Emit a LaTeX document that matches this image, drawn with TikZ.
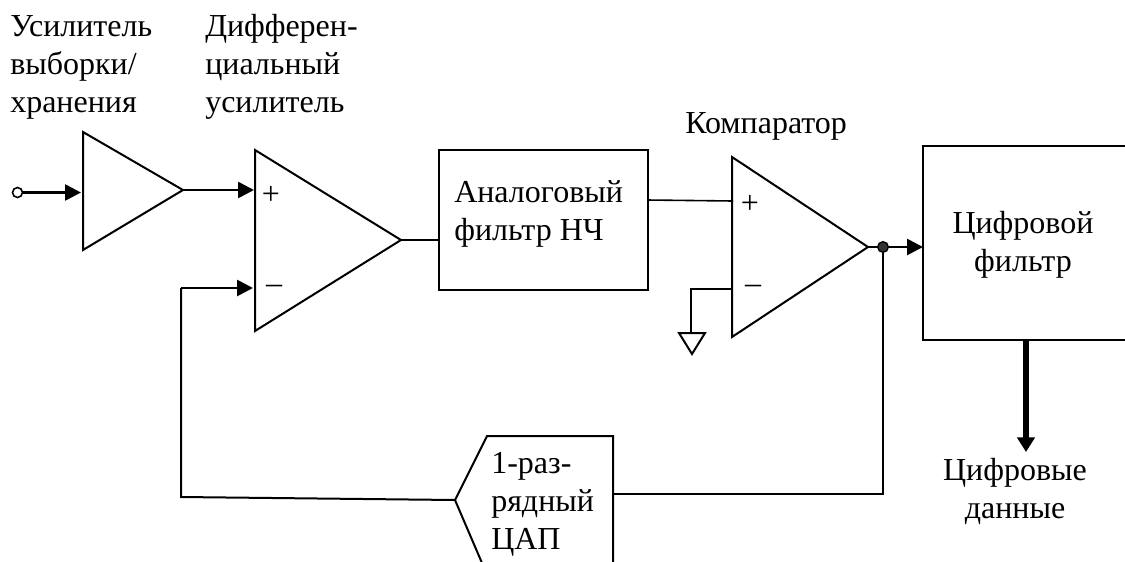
\documentclass[tikz,border=0pt]{standalone}
\usepackage{fontspec}
\setmainfont{Liberation Serif}
\usetikzlibrary{arrows.meta}
\tikzset{
  x=0.75pt,y=-0.75pt,
  wire/.style={line width=1.5pt,line join=miter},
  thin wire/.style={line width=1.2pt},
  sig/.style={line width=2pt,-{Triangle[length=12pt,width=12pt]},shorten >=0pt},
  bigsig/.style={line width=4.5pt,-{Triangle[length=11pt,width=13pt]}},
  lbl/.style={inner sep=0pt,align=left,anchor=base west,font=\fontsize{24}{28.2}\selectfont},
  sign/.style={inner sep=0pt,font=\fontsize{24}{24}\selectfont},
}
\begin{document}
\begin{tikzpicture}
\useasboundingbox (0,0) rectangle (1125,561);
\clip (0,0) rectangle (1125,561);
% anchors
\coordinate (inp) at (17.5,192.5);
\coordinate (a1in) at (81,192.5);
\coordinate (a1tl) at (83,132);
\coordinate (a1bl) at (83,250);
\coordinate (a1out) at (183,190);
\coordinate (a2plus) at (254,190);
\coordinate (a2minus) at (253,288);
\coordinate (a2tl) at (255,150);
\coordinate (a2bl) at (255,331);
\coordinate (a2out) at (401,240);
\coordinate (fbcorner) at (181,288);
\coordinate (fbbot) at (181,497);
\coordinate (lpfin) at (439,240);
\coordinate (lpfout) at (647,200);
\coordinate (cplus) at (733,201);
\coordinate (cminus) at (732,289);
\coordinate (gcorner) at (691,289);
\coordinate (gtop) at (691,333);
\coordinate (ctl) at (732,157);
\coordinate (cbl) at (732,337);
\coordinate (cout) at (868,247);
\coordinate (dfin) at (923,247);
\coordinate (dfbot) at (1026,340);
\coordinate (dout) at (1026,452);
\coordinate (dacin) at (455,500);
\coordinate (dacout) at (613,494);
\coordinate (nodebot) at (883,494);
% shapes
\draw[wire] (a1tl) -- (a1out) -- (a1bl) -- cycle;
\draw[wire] (a2tl) -- (a2out) -- (a2bl) -- cycle;
\draw[wire] (ctl) -- (cout) -- (cbl) -- cycle;
\draw[wire] (439,150) rectangle (648,289.5);
\draw[wire] (923,146) rectangle (1135,340);
\draw[wire] (485,570) -- (dacin) -- (487,436) -- (613,436) -- (613,570);
\draw[wire] (679,333) -- (705,333) -- (692,354) -- cycle;
% connectors
\node[circle,draw,line width=1.2pt,fill=white,minimum size=7.5pt,inner sep=0pt,outer sep=0pt] (incirc) at (inp) {};
\draw[sig] (incirc) -- (a1in);
\draw[sig] (a1out) -- (a2plus);
\draw[sig] (fbcorner) -- (a2minus);
\draw[wire] (fbcorner) -- (fbbot) -- (dacin);
\draw[wire] (a2out) -- (lpfin);
\draw[thin wire] (lpfout) -- (cplus);
\draw[wire] (cminus) -- (gcorner) -- (gtop);
\draw[sig] (cout) -- (dfin);
\node[circle,draw=black,fill=black!80,line width=1pt,minimum size=8pt,inner sep=0pt] (junc) at (883,247) {};
\draw[wire] (junc) -- (nodebot) -- (dacout);
\draw[bigsig] (dfbot) -- (dout);
% signs
\node[sign] (p1) at (271,195) {+};
\node[sign] (m1) at (274,289) {–};
\node[sign] (p2) at (750,204) {+};
\node[sign] (m2) at (753,289) {–};
% labels
\node[lbl] (t1) at (10,112) {Усилитель\\выборки/\\хранения};
\node[lbl] (t2) at (205,112) {Дифферен-\\циальный\\усилитель};
\node[lbl] (t3) at (685,133) {Компаратор};
\node[lbl] (t4) at (454,240) {Аналоговый\\фильтр НЧ};
\node[lbl,align=center,anchor=base] (t5) at (1023,271) {Цифровой\\фильтр};
\node[lbl,align=center,anchor=base] (t6) at (1015,518) {Цифровые\\данные};
\node[lbl] (t7) at (491,549) {1-раз-\\рядный\\ЦАП};
\end{tikzpicture}
\end{document}
